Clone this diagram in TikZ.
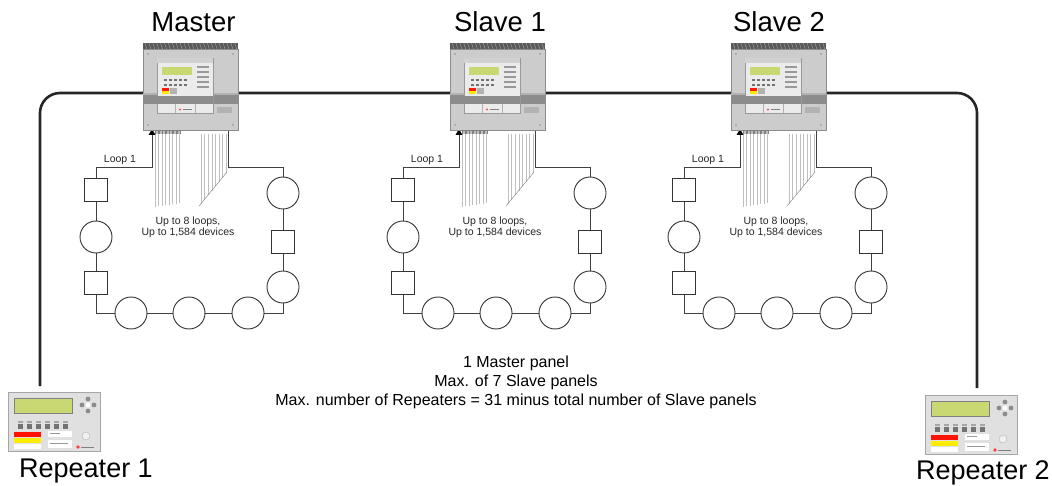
\documentclass[tikz,border=0pt]{standalone}
\usepackage{fontspec}
\setmainfont{Liberation Sans}
\begin{document}
\begin{tikzpicture}[x=1pt,y=-1pt,
  bus/.style={line width=2.6pt,draw=black!85,rounded corners=20pt},
  loopline/.style={line width=0.8pt,draw=black!75},
  fanline/.style={line width=0.5pt,draw=black!25},
  sqdev/.style={draw=black!80,line width=0.9pt,fill=white,minimum size=23pt,inner sep=0pt},
  cidev/.style={draw=black!80,line width=0.9pt,fill=white,circle,minimum size=32pt,inner sep=0pt},
  title/.style={font=\fontsize{27.5}{30}\selectfont,inner sep=0pt},
  small/.style={font=\fontsize{10.5}{12}\selectfont,inner sep=0pt,text=black!85},
  note/.style={font=\fontsize{16}{19}\selectfont,inner sep=0pt,align=center},
  panelbody/.style={fill=black!20,draw=black!45,line width=0.6pt},
  dispfill/.style={fill=lime!45!olive!55!white}
]
\useasboundingbox (0,0) rectangle (1052,486);

% repeater anchors and bus
\coordinate (rl) at (40,386);
\coordinate (rr) at (977,388);
\draw[bus] (rl) -- (40,93) -- (977,93) -- (rr);

% titles
\node[title] (tmaster) at (193.5,22) {Master};
\node[title] (tslave1) at (500,22) {Slave 1};
\node[title] (tslave2) at (779,22) {Slave 2};

% panels and loops
\foreach \dx/\nm in {0/m,307/a,588/b}{
\begin{scope}[xshift=\dx pt]
  % fan lines
  \foreach \i in {0,...,7}{
    \draw[fanline] (155+\i*3.5,134) -- (155+\i*3.5,207-\i*0.5);
  }
  \foreach \i in {0,...,7}{
    \draw[fanline] (201+\i*3.6,134) -- (201+\i*3.6,204-\i*4.4);
  }
  \draw[fanline,black!45] (199,206) -- (227,172);
  % loop
  \draw[loopline] (152,134) -- (152,167) -- (96,167) -- (96,313) -- (283,313) -- (283,167) -- (228,167) -- (228,131);
  \fill[black] (152,129) -- (148.5,135) -- (155.5,135) -- cycle;
  \node[sqdev] (s1\nm) at (96,190) {};
  \node[cidev] (c1\nm) at (96,237) {};
  \node[sqdev] (s2\nm) at (96,283) {};
  \node[cidev] (c2\nm) at (131,313) {};
  \node[cidev] (c3\nm) at (189,313) {};
  \node[cidev] (c4\nm) at (248,313) {};
  \node[cidev] (c5\nm) at (283,287) {};
  \node[sqdev] (s3\nm) at (283,242) {};
  \node[cidev] (c6\nm) at (283,193) {};
  \node[small] (loop\nm) at (120,160) {Loop 1};
  \node[small,align=center,font=\fontsize{10.5}{11.5}\selectfont] (txt\nm) at (188,227.5) {Up to 8 loops,\\Up to 1,584 devices};
  % panel
  \fill[black!65] (143,43) rectangle (238,49);
  \foreach \k in {0,...,23}{\draw[black!35,line width=0.4pt] (145+\k*3.9,43) -- (147+\k*3.9,49);}
  \draw[panelbody] (143,49) rectangle (238,130);
  \fill[black!45] (143,95) rectangle (238,104);
  \fill[black!30] (143,93) rectangle (238,95);
  \draw[fill=black!8,draw=black!40] (157,58) rectangle (213,113);
  \fill[black!18] (157,58) rectangle (213,63);
  \fill[dispfill] (162,67) rectangle (192,75);
  \foreach \r in {0,1}{\foreach \c in {0,...,4}{\fill[black!55] (164+\c*5,79+\r*5) rectangle (167+\c*5,81.5+\r*5);}}
  \fill[red!80!orange] (162,88) rectangle (169,91);
  \fill[yellow!90!orange] (162,91) rectangle (169,94);
  \fill[black!30] (170,88) rectangle (177,94);
  \foreach \r in {0,...,4}{\fill[black!40] (197,66+\r*5) rectangle (209,68+\r*5);}
  \fill[black!45] (157,96) rectangle (213,104);
  \draw[black!30] (175,104) -- (175,113) (195,104) -- (195,113);
  \fill[red!70] (180,109.5) circle (1.2pt);
  \fill[black!50] (183,108.8) rectangle (192,110.2);
  \fill[black!30] (217,107) rectangle (232,113);
  \foreach \p in {(148,54),(233,54),(148,125),(233,125)}{\fill[black!45] \p circle (0.9pt);}
  \fill[black!50] (155,130) rectangle (181,134);
  \foreach \k in {0,...,6}{\fill[black!25] (156+\k*3.6,131) rectangle (158+\k*3.6,134);}
\end{scope}
}

% repeaters
\foreach \dx/\dy in {0/0,917/3}{
\begin{scope}[xshift=\dx pt,yshift=-\dy pt]
  \draw[fill=black!12,draw=black!35,line width=0.5pt] (8,392) rectangle (100,451);
  \fill[dispfill] (14,398) rectangle (72,413);
  \draw[black!50,line width=0.4pt] (14,398) rectangle (72,413);
  \foreach \p in {(88,399),(88,411),(82,405),(94,405)}{\fill[black!45] \p circle (2.4pt);}
  \fill[white] (88,405) circle (2.6pt);
  \foreach \c in {0,...,5}{\fill[black!55] (18+\c*9,424) rectangle (23+\c*9,429); \fill[black!35] (18+\c*9,421) rectangle (23+\c*9,422.5);}
  \fill[red!85!orange] (14,432) rectangle (41,437);
  \fill[yellow!95!orange] (14,438) rectangle (41,443);
  \fill[white] (14,444) rectangle (41,449);
  \fill[white] (48,431) rectangle (72,437);
  \fill[white] (48,440) rectangle (72,448);
  \fill[black!40] (50,433) rectangle (60,434);
  \fill[black!40] (50,443) rectangle (68,444);
  \draw[black!30,fill=black!6] (86,436) circle (4pt);
  \fill[red!75] (78,447) circle (1.8pt);
  \fill[black!50] (81,446.5) rectangle (94,448);
\end{scope}
}
\node[title,font=\fontsize{27}{30}\selectfont] (r1) at (86,471) {Repeater 1};
\node[title,font=\fontsize{27}{30}\selectfont] (r2) at (983,473) {Repeater 2};

% bottom note
\node[note] (note) at (516,382) {1 Master panel\\Max. of 7 Slave panels\\Max. number of Repeaters = 31 minus total number of Slave panels};
\end{tikzpicture}
\end{document}
